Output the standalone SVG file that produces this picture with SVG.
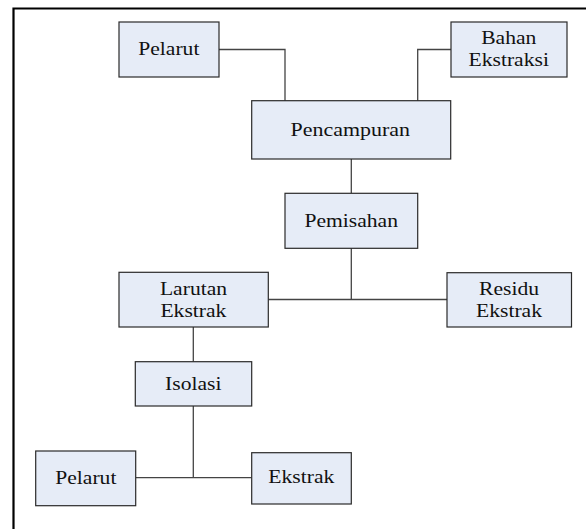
<svg xmlns="http://www.w3.org/2000/svg" width="587" height="529" viewBox="0 0 587 529">
<style>
.box{fill:#E6ECF7;stroke:#2a2a2a;stroke-width:1.2}
.c{fill:none;stroke:#444;stroke-width:1.3}
.frame{fill:none;stroke:#000;stroke-width:2.2}
</style>
<rect width="587" height="529" fill="#fff"/>
<path class="frame" d="M586 8.5H13.5V529"/>
<g id="connectors">
<path class="c" d="M219 49.5H285V101"/>
<path class="c" d="M451 49.5H417.7V101"/>
<path class="c" d="M351.3 159V193"/>
<path class="c" d="M351.3 248V299.5"/>
<path class="c" d="M268.3 299.5H447"/>
<path class="c" d="M193.3 327V361.7"/>
<path class="c" d="M193.3 406V477.7"/>
<path class="c" d="M135.7 477.7H251.7"/>
</g>
<g font-family="Liberation Serif" font-size="18" fill="#111" text-anchor="middle">
<g id="pelarut1"><rect class="box" x="119" y="22" width="100" height="55"/><text x="0" y="55" transform="translate(168.8,0) scale(1.2,1)">Pelarut</text></g>
<g id="bahan"><rect class="box" x="451" y="22" width="116" height="55"/><text x="0" y="44.3" transform="translate(508.8,0) scale(1.2,1)">Bahan</text><text x="0" y="65.7" transform="translate(508.7,0) scale(1.2,1)">Ekstraksi</text></g>
<g id="pencampuran"><rect class="box" x="251.7" y="100.7" width="199" height="58.3"/><text x="0" y="136" transform="translate(350.3,0) scale(1.22,1)">Pencampuran</text></g>
<g id="pemisahan"><rect class="box" x="285" y="193.3" width="132.7" height="55"/><text x="0" y="227" transform="translate(351.2,0) scale(1.2,1)">Pemisahan</text></g>
<g id="larutan"><rect class="box" x="119" y="272.3" width="149.3" height="54.7"/><text x="0" y="295" transform="translate(193.5,0) scale(1.2,1)">Larutan</text><text x="0" y="316.7" transform="translate(193.4,0) scale(1.2,1)">Ekstrak</text></g>
<g id="residu"><rect class="box" x="447" y="272.7" width="124.5" height="54.3"/><text x="0" y="295" transform="translate(509,0) scale(1.2,1)">Residu</text><text x="0" y="316.7" transform="translate(509,0) scale(1.2,1)">Ekstrak</text></g>
<g id="isolasi"><rect class="box" x="135.3" y="361.7" width="116.4" height="44.3"/><text x="0" y="390" transform="translate(193.3,0) scale(1.2,1)">Isolasi</text></g>
<g id="pelarut2"><rect class="box" x="35.7" y="451" width="100" height="54.7"/><text x="0" y="484" transform="translate(85.8,0) scale(1.2,1)">Pelarut</text></g>
<g id="ekstrak"><rect class="box" x="251.7" y="452.7" width="99.6" height="51.3"/><text x="0" y="483.3" transform="translate(301.3,0) scale(1.2,1)">Ekstrak</text></g>
</g>
</svg>
